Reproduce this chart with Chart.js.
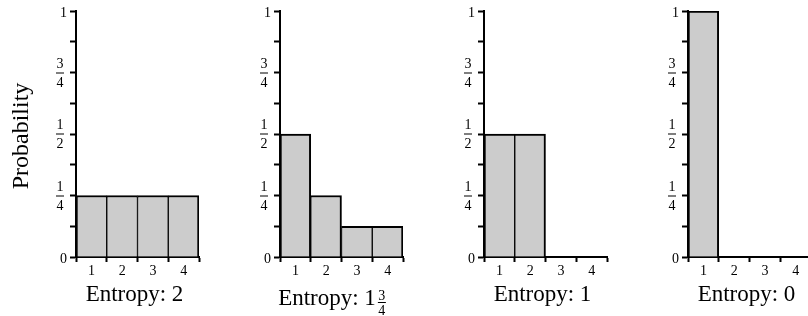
<!DOCTYPE html>
<html><head><meta charset="utf-8">
<script src="https://cdn.jsdelivr.net/npm/chart.js@4.4.1/dist/chart.umd.min.js"></script>
<style>
html,body{margin:0;padding:0;background:#fff;overflow:hidden;width:808px;height:316px;position:relative}
.p{position:absolute;top:0;width:204px;height:316px}
</style></head><body>
<div class="p" style="left:0"><canvas id="c0" width="204" height="316"></canvas></div>
<div class="p" style="left:204px"><canvas id="c1" width="204" height="316"></canvas></div>
<div class="p" style="left:408px"><canvas id="c2" width="204" height="316"></canvas></div>
<div class="p" style="left:612px"><canvas id="c3" width="204" height="316"></canvas></div>
<script>
const categories = ['1', '2', '3', '4'];
const panel1 = [0.25, 0.25, 0.25, 0.25];
const panel2 = [0.5, 0.25, 0.125, 0.125];
const panel3 = [0.5, 0.5, 0, 0];
const panel4 = [1, 0, 0, 0];
const yTickValues = [0, 0.25, 0.5, 0.75, 1];
const yTickLabels = ['0', '1/4', '1/2', '3/4', '1'];
const entropyWhole = ['2', '1', '1', '0'];
const entropyFrac = ['', '3/4', '', ''];
const yAxisTitle = 'Probability';
const entropyPrefix = 'Entropy: ';

const panels = [panel1, panel2, panel3, panel4];
const SERIF = '"Liberation Serif", "Times New Roman", serif';

const labelPlugin = {
  id: 'panelLabels',
  afterDraw(chart, args, opts) {
    const ctx = chart.ctx;
    const ys = chart.scales.y;
    const area = chart.chartArea;
    const idx = opts.index;
    ctx.save();
    ctx.fillStyle = '#000';
    ctx.textBaseline = 'alphabetic';
    ctx.font = '14px ' + SERIF;
    yTickValues.forEach((v, i) => {
      const y = ys.getPixelForValue(v);
      const lab = yTickLabels[i];
      if (lab.indexOf('/') >= 0) {
        const [n, d] = lab.split('/');
        const cx = area.left - 16;
        ctx.textAlign = 'center';
        ctx.fillText(n, cx, y - 5);
        ctx.fillText(d, cx, y + 14);
        ctx.fillRect(cx - 4, Math.round(y) - 0.5, 8, 1);
      } else {
        ctx.textAlign = 'right';
        ctx.fillText(lab, area.left - 9, y + 6);
      }
    });
    // entropy caption
    const center = (area.left + area.right) / 2;
    const main = entropyPrefix + entropyWhole[idx];
    ctx.font = '23px ' + SERIF;
    if (!entropyFrac[idx]) {
      ctx.textAlign = 'center';
      ctx.fillText(main, center - 3, 301);
    } else {
      const w = ctx.measureText(main).width;
      const total = w + 11;
      const left = center - 9 - total / 2;
      ctx.textAlign = 'left';
      ctx.fillText(main, left, 305);
      const [n, d] = entropyFrac[idx].split('/');
      const cx = left + w + 6;
      ctx.font = '14px ' + SERIF;
      ctx.textAlign = 'center';
      ctx.fillText(n, cx, 300);
      ctx.fillText(d, cx, 315);
      ctx.fillRect(cx - 4, 302, 8, 1);
    }
    if (idx === 0) {
      ctx.font = '24px ' + SERIF;
      ctx.translate(28, 136);
      ctx.rotate(-Math.PI / 2);
      ctx.textAlign = 'center';
      ctx.fillText(yAxisTitle, 0, 0);
    }
    ctx.restore();
  }
};

panels.forEach((vals, idx) => {
  new Chart(document.getElementById('c' + idx), {
    type: 'bar',
    data: {
      labels: categories,
      datasets: [{
        data: vals,
        backgroundColor: '#cccccc',
        borderColor: '#000000',
        borderSkipped: 'start',
        borderWidth: (c) => {
          const d = c.dataset.data;
          const i = c.dataIndex;
          const v = d[i];
          const prev = d[i - 1];
          const next = d[i + 1];
          return {
            top: 2,
            left: (prev === undefined || prev < v) ? 2 : 1,
            right: (next === undefined || next < v) ? 2 : 1,
            bottom: 0
          };
        },
        barPercentage: 1,
        categoryPercentage: 1
      }]
    },
    options: {
      responsive: false,
      animation: false,
      devicePixelRatio: 1,
      layout: { padding: { top: 11, right: 5, left: 0, bottom: 0 } },
      plugins: {
        legend: { display: false },
        tooltip: { enabled: false },
        panelLabels: { index: idx }
      },
      scales: {
        x: {
          type: 'category',
          offset: true,
          grid: {
            offset: true,
            drawOnChartArea: false,
            drawTicks: true,
            tickLength: 5,
            tickWidth: 2,
            tickColor: '#000'
          },
          border: { display: true, color: '#000', width: 2 },
          ticks: { color: '#000', font: { family: SERIF, size: 14 }, padding: 1, maxRotation: 0 },
          afterFit: (s) => { s.height = 59; }
        },
        y: {
          min: 0,
          max: 1,
          grid: {
            drawOnChartArea: false,
            drawTicks: true,
            tickLength: 6,
            tickWidth: 2,
            tickColor: '#000'
          },
          border: { display: true, color: '#000', width: 2 },
          ticks: { stepSize: 0.125, callback: () => '' },
          afterFit: (s) => { s.width = 76; }
        }
      }
    },
    plugins: [labelPlugin]
  });
});
</script>
</body></html>
